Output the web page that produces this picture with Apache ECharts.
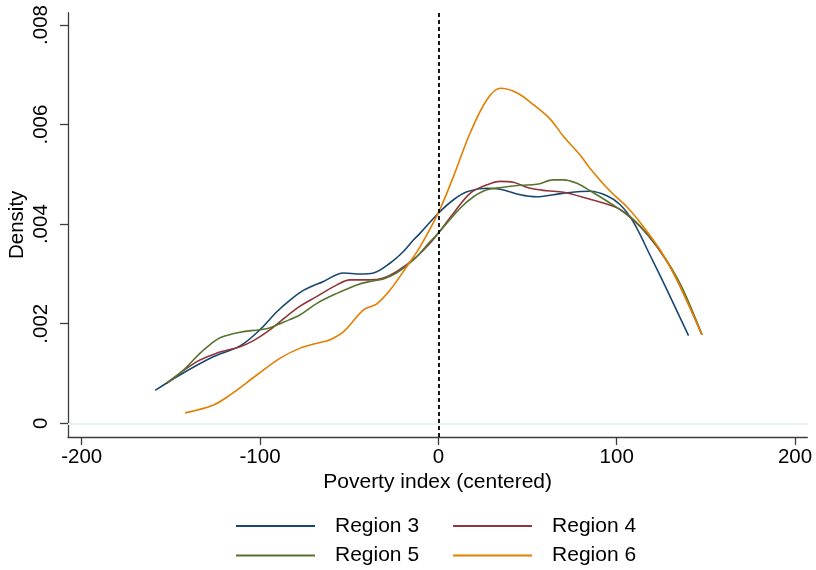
<!DOCTYPE html>
<html>
<head>
<meta charset="utf-8">
<script src="https://cdn.jsdelivr.net/npm/echarts@6/dist/echarts.min.js"></script>
<style>
  html, body { margin: 0; padding: 0; background: #fff; }
  #chart { width: 816px; height: 570px; }
</style>
</head>
<body>
<div id="chart"></div>
<script>
// Kernel density of the centered poverty index, one curve per region: [index, density]
const region3 = [[-158.8,0.00066],[-145,0.00097],[-126,0.00134],[-111,0.00156],[-100,0.00188],[-90.6,0.00224],[-83,0.00248],[-75.7,0.00267],[-64.4,0.00285],[-53.2,0.00302],[-43.9,0.00300],[-36.4,0.00302],[-27,0.00322],[-19.6,0.00345],[-14,0.00368],[-10.2,0.00382],[0,0.00422],[8.5,0.00449],[16,0.00465],[27.2,0.00472],[34.7,0.00470],[45.9,0.00459],[55.2,0.00455],[64.6,0.00459],[72,0.00463],[85.1,0.00466],[94.5,0.00457],[102,0.00439],[109.4,0.00404],[118.8,0.00337],[128.2,0.00268],[140.3,0.00176]];
const region4 = [[-152.3,0.00081],[-135.4,0.00124],[-124.2,0.00141],[-111.2,0.00154],[-103.7,0.00166],[-94.3,0.00188],[-79.4,0.00231],[-68.1,0.00255],[-56.9,0.00278],[-49.5,0.00288],[-38.2,0.00288],[-30.8,0.00292],[-23.3,0.00305],[-12.1,0.00335],[-4.6,0.00362],[0,0.00382],[8.5,0.00422],[17.8,0.00462],[27.2,0.00479],[34.7,0.00486],[42.1,0.00484],[51.5,0.00472],[60.9,0.00467],[70.2,0.00464],[85.1,0.00450],[93,0.00442],[102,0.00429],[113.2,0.00395],[122.5,0.00355],[131.9,0.00302],[147.8,0.00178]];
const region5 = [[-152.3,0.00080],[-143,0.00107],[-133.6,0.00141],[-128,0.00158],[-122.4,0.00172],[-111.2,0.00183],[-100,0.00188],[-94.3,0.00192],[-86.9,0.00203],[-77.5,0.00218],[-68.1,0.00241],[-56.9,0.00261],[-45.7,0.00278],[-38.2,0.00285],[-30.8,0.00290],[-23.3,0.00302],[-14,0.00328],[-4.6,0.00365],[0,0.00382],[12.2,0.00432],[19.7,0.00455],[27.2,0.00469],[36.5,0.00474],[45.9,0.00478],[55.2,0.00480],[64.6,0.00489],[70.2,0.00489],[77.7,0.00482],[85.1,0.00467],[96.4,0.00442],[107.6,0.00415],[118.8,0.00373],[128.2,0.00326],[137,0.00270],[147.8,0.00178]];
const region6 = [[-142,0.00021],[-126.1,0.00037],[-116.8,0.00057],[-101.8,0.00097],[-88.7,0.00131],[-77.5,0.00151],[-68.1,0.00161],[-60.7,0.00168],[-53.2,0.00184],[-42,0.00228],[-34.5,0.00240],[-27,0.00268],[-17.7,0.00315],[-10.2,0.00355],[0,0.00423],[8.5,0.00496],[17.8,0.00583],[27.2,0.00650],[34.7,0.00673],[44,0.00664],[53.3,0.00640],[62.7,0.00611],[70.2,0.00576],[79.5,0.00539],[85.1,0.00512],[96.4,0.00466],[105.7,0.00435],[115,0.00395],[124.4,0.00348],[133.8,0.00288],[147.8,0.00178]];

const seriesNames = ['Region 3', 'Region 4', 'Region 5', 'Region 6'];
const xTicks = [-200, -100, 0, 100, 200];
const yTicks = [0, 0.002, 0.004, 0.006, 0.008];
const yGridValues = [0, 0.002, 0.004, 0.006];
const cutoff = 0;

const colors = ['#1a476f', '#90353b', '#55752f', '#e37e00'];
const font = '"Liberation Sans", Arial, Helvetica, sans-serif';

const curves = [region3, region4, region5, region6].map((pts, i) => ({
  name: seriesNames[i],
  type: 'line',
  data: pts,
  smooth: 0.35,
  showSymbol: false,
  symbol: 'none',
  z: 3,
  itemStyle: { color: colors[i] },
  lineStyle: { color: colors[i], width: 1.6 }
}));

const chart = echarts.init(document.getElementById('chart'), null, { renderer: 'canvas' });
chart.setOption({
  animation: false,
  backgroundColor: '#ffffff',
  textStyle: { fontFamily: font },
  grid: { left: 68, right: 8.7, top: 12.7, bottom: 133, containLabel: false, outerBoundsMode: 'none' },
  xAxis: {
    type: 'value',
    min: -207.7,
    max: 206.9,
    name: 'Poverty index (centered)',
    nameLocation: 'middle',
    nameGap: 35,
    nameMoveOverlap: false,
    nameTextStyle: { fontSize: 21, color: '#000', fontFamily: font },
    axisLine: { onZero: false, lineStyle: { color: '#3c3c3c', width: 1.3 } },
    axisTick: { customValues: xTicks, length: 8, lineStyle: { color: '#3c3c3c', width: 1.3 } },
    axisLabel: { customValues: xTicks, fontSize: 20.5, color: '#000', margin: 10, fontFamily: font },
    splitLine: { show: false }
  },
  yAxis: {
    type: 'value',
    min: -0.000275,
    max: 0.008247,
    name: 'Density',
    nameLocation: 'middle',
    nameGap: 40,
    nameRotate: 90,
    nameMoveOverlap: false,
    nameTextStyle: { fontSize: 20.5, color: '#000', fontFamily: font },
    axisLine: { onZero: false, lineStyle: { color: '#3c3c3c', width: 1.3 } },
    axisTick: { customValues: yTicks, length: 8, lineStyle: { color: '#3c3c3c', width: 1.3 } },
    axisLabel: {
      customValues: yTicks,
      rotate: 90,
      fontSize: 20.5,
      color: '#000',
      margin: 16,
      fontFamily: font,
      formatter: v => (Math.abs(v) < 1e-12 ? '0' : v.toFixed(3).replace(/^0/, ''))
    },
    splitLine: { show: false }
  },
  legend: [
    {
      data: seriesNames.slice(0, 2),
      left: 236, top: 515.5, padding: 0,
      itemWidth: 79, itemHeight: 2, itemGap: 34, icon: 'rect',
      textStyle: { fontSize: 21, color: '#000', fontFamily: font, padding: [0, 0, 0, 15] }
    },
    {
      data: seriesNames.slice(2, 4),
      left: 236, top: 545, padding: 0,
      itemWidth: 79, itemHeight: 2, itemGap: 34, icon: 'rect',
      textStyle: { fontSize: 21, color: '#000', fontFamily: font, padding: [0, 0, 0, 15] }
    }
  ],
  series: [
    {
      name: 'grid',
      type: 'line',
      data: [],
      z: 1,
      silent: true,
      markLine: {
        silent: true,
        symbol: ['none', 'none'],
        label: { show: false },
        lineStyle: { color: '#eaf2f3', width: 1.5, type: 'solid' },
        data: yGridValues.map(v => ({ yAxis: v }))
      }
    },
    {
      name: 'cutoff',
      type: 'line',
      data: [],
      z: 2,
      silent: true,
      markLine: {
        silent: true,
        symbol: ['none', 'none'],
        label: { show: false },
        lineStyle: { color: '#000', width: 1.8, type: [4, 3] },
        data: [{ xAxis: cutoff }]
      }
    }
  ].concat(curves)
});
</script>
</body>
</html>
